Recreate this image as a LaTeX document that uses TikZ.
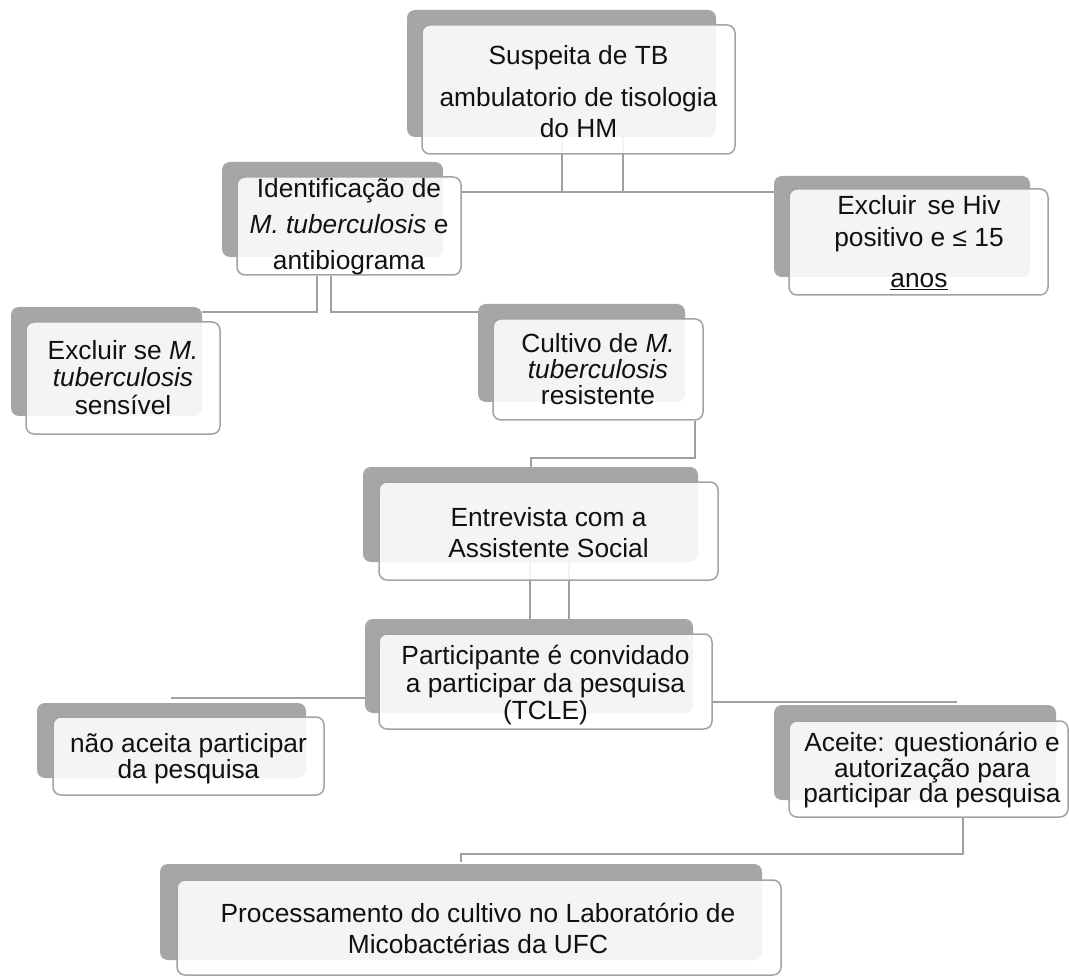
\documentclass[tikz,border=0pt]{standalone}
\usepackage{fontspec}
\setmainfont{Liberation Sans}
\definecolor{shadowgray}{HTML}{A6A6A6}
\definecolor{edgegray}{HTML}{A3A3A3}
\definecolor{linegray}{HTML}{A0A0A0}
\definecolor{inkcol}{HTML}{111111}
\pgfdeclarelayer{bg}
\pgfdeclarelayer{conns}
\pgfsetlayers{bg,conns,main}
\begin{document}
\begin{tikzpicture}[x=1pt,y=-1pt,
  backbox/.style={draw=none, fill=shadowgray, rounded corners=8pt, inner sep=0pt},
  frontbox/.style={draw=edgegray, line width=1.5pt, fill=white, fill opacity=0.88, rounded corners=8pt, inner sep=0pt},
  txt/.style={align=center, inner sep=0pt, anchor=north, text=inkcol, font=\fontsize{26.3}{#1}\selectfont},
  conn/.style={draw=linegray, line width=2pt}]
\useasboundingbox (0,0) rectangle (1069,976);

% back boxes
\begin{pgfonlayer}{bg}
\node[backbox, minimum width=309, minimum height=127] (bsus) at (561.5,73.5) {};
\node[backbox, minimum width=221, minimum height=95]  (bid)  at (332.5,209.5) {};
\node[backbox, minimum width=256, minimum height=101] (bhiv) at (902,226.5) {};
\node[backbox, minimum width=191, minimum height=109] (bexm) at (106.5,361.5) {};
\node[backbox, minimum width=207, minimum height=98]  (bcul) at (581.5,353) {};
\node[backbox, minimum width=335, minimum height=95]  (bent) at (530.5,514.5) {};
\node[backbox, minimum width=328, minimum height=94]  (bpar) at (529,666) {};
\node[backbox, minimum width=269, minimum height=75]  (bnao) at (171.5,740.5) {};
\node[backbox, minimum width=282, minimum height=95]  (bace) at (915,752.5) {};
\node[backbox, minimum width=602, minimum height=96]  (bpro) at (461,912) {};
\end{pgfonlayer}

% front boxes
\node[frontbox, minimum width=313, minimum height=129] (fsus) at (578.5,89.5) {};
\node[frontbox, minimum width=224, minimum height=98]  (fid)  at (349,226) {};
\node[frontbox, minimum width=259, minimum height=106] (fhiv) at (918.5,242) {};
\node[frontbox, minimum width=194, minimum height=112] (fexm) at (123,378) {};
\node[frontbox, minimum width=210, minimum height=101] (fcul) at (598,369.5) {};
\node[frontbox, minimum width=339, minimum height=98]  (fent) at (548.5,531) {};
\node[frontbox, minimum width=333, minimum height=95]  (fpar) at (545.5,681.5) {};
\node[frontbox, minimum width=271, minimum height=78]  (fnao) at (188.5,756) {};
\node[frontbox, minimum width=279, minimum height=96]  (face) at (928.5,769) {};
\node[frontbox, minimum width=604, minimum height=95]  (fpro) at (479,927.5) {};

% connector bend points and free ends
\coordinate (a1) at (562,192);
\coordinate (a2) at (623,192);
\coordinate (b1) at (317,312);
\coordinate (b2) at (331,312);
\coordinate (c1) at (695,458);
\coordinate (c2) at (531,458);
\coordinate (d1) at (530,590);
\coordinate (d2) at (569,590);
\coordinate (e1) at (171,698);
\coordinate (e2) at (957,702);
\coordinate (f1) at (963,854);
\coordinate (f2) at (461,854);
\coordinate (f3) at (461,862);

% connectors (under the translucent front boxes)
\begin{pgfonlayer}{conns}
\draw[conn] (a1 |- bsus.south) -- (a1);
\draw[conn] (a2 |- bsus.south) -- (a2);
\draw[conn] (fid.east |- a1) -- (bhiv.west |- a1);
\draw[conn] (b1 |- fid.south) -- (b1) -- (bexm.east |- b1);
\draw[conn] (b2 |- fid.south) -- (b2) -- (bcul.west |- b2);
\draw[conn] (c1 |- fcul.south) -- (c1) -- (c2) -- (c2 |- bent.north);
\draw[conn] (d1 |- bent.south) -- (d1 |- bpar.north);
\draw[conn] (d2 |- bent.south) -- (d2 |- bpar.north);
\draw[conn] (bpar.west |- e1) -- (e1);
\draw[conn] (fpar.east |- e2) -- (e2);
\draw[conn] (f1 |- face.south) -- (f1) -- (f2) -- (f3);
\end{pgfonlayer}

% texts
\node[txt=31] (tsus) at (578.5,45) {Suspeita de TB\\[11pt]ambulatorio de tisologia\\do HM};
\node[txt=36] (tid) at (349,178) {Identificação de\\\textit{M. tuberculosis} e\\antibiograma};
\node[txt=32] (thiv) at (919,195) {Excluir\hspace{4pt} se Hiv\\positivo e ≤ 15\\[9pt]\underline{anos}};
\node[txt=27.5] (texm) at (123,340) {Excluir se \textit{M.}\\\textit{tuberculosis}\\sensível};
\node[txt=26] (tcul) at (598,333) {Cultivo de \textit{M.}\\\textit{tuberculosis}\\resistente};
\node[txt=31] (tent) at (548.5,507) {Entrevista com a\\Assistente Social};
\node[txt=27.5] (tpar) at (545.5,645) {Participante é convidado\\a participar da pesquisa\\(TCLE)};
\node[txt=26] (tnao) at (188.5,733) {não aceita participar\\da pesquisa};
\node[txt=25.5] (tace) at (932,732) {Aceite: questionário e\\autorização para\\participar da pesquisa};
\node[txt=31] (tpro) at (478,903) {Processamento do cultivo no Laboratório de\\Micobactérias da UFC};
\end{tikzpicture}
\end{document}
